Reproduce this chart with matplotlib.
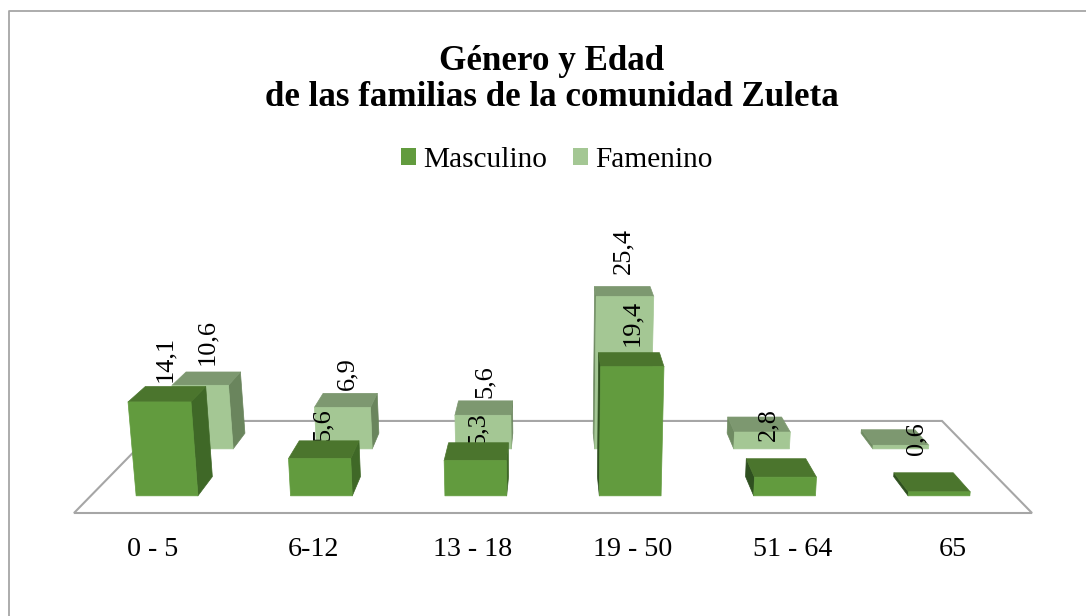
"""Género y Edad - 3D style clustered bars drawn with a small perspective helper."""

import matplotlib
matplotlib.use("Agg")
import matplotlib.pyplot as plt
from matplotlib.patches import Patch, Polygon

plt.rcParams["font.family"] = ["Liberation Serif", "DejaVu Serif"]

categories = ["0 - 5", "6-12", "13 - 18", "19 - 50", "51 - 64", "65"]
masculino = [14.1, 5.6, 5.3, 19.4, 2.8, 0.6]
femenino = [10.6, 6.9, 5.6, 25.4, 2.8, 0.6]
masc_labels = ["14,1", "5,6", "5,3", "19,4", None, None]
fem_labels = ["10,6", "6,9", "5,6", "25,4", "2,8", "0,6"]

# label nudges in pixels from the back centre of the bar top
masc_nudge = [(-10, -28), (-6, -16), (-1, -14), (3, -30), (0, 0), (0, 0)]
fem_nudge = [(-6, -30), (-3, -20), (-1, -19), (1, -35), (14, 7.5), (28, 9)]

# camera: depth vanishing point, floor front edge, px per unit
VP_X, VP_Y = 553, 23
FLOOR_FRONT_Y = 513
FLOOR_HALF = 479
DEPTH_K = 0.2313
STEP = 160
BAR_W = 64
HEIGHT_PX = 6.9
LEAN = 0.00138
BAR_DEPTH = 0.19
ROW_MASC = 0.157
ROW_FEM = 0.651

MASC = {"front": "#629B3E", "top": "#4B752D", "side": "#3F6827", "inner": "#2F5020"}
FEM = {"front": "#A4C794", "top": "#7D9870", "side": "#6A855D", "inner": "#6F8B62"}
GRID = "#A6A6A6"
LABEL_SIZE = 19


def project(x, h, d):
    """x in floor units from centre, h in data units, d in 0 (front) .. 1 (back)."""
    s = 1 / (1 + DEPTH_K * d)
    px = VP_X + x * s * (1 + h * LEAN)
    py = VP_Y + (FLOOR_FRONT_Y - VP_Y) * s - h * HEIGHT_PX * s
    return px, py


def draw_bar(ax, idx, value, row, colors, z):
    xc = STEP * (idx - (len(categories) - 1) / 2)
    x0, x1 = xc - BAR_W / 2, xc + BAR_W / 2
    d0, d1 = row, row + BAR_DEPTH
    edge = dict(linewidth=0.5, joinstyle="round", zorder=z)
    if x1 < 0:
        side = [project(x1, 0, d0), project(x1, value, d0), project(x1, value, d1), project(x1, 0, d1)]
        ax.add_patch(Polygon(side, facecolor=colors["side"], edgecolor=colors["side"], **edge))
    if x0 > 0:
        side = [project(x0, 0, d0), project(x0, value, d0), project(x0, value, d1), project(x0, 0, d1)]
        ax.add_patch(Polygon(side, facecolor=colors["inner"], edgecolor=colors["inner"], **edge))
    top = [project(x0, value, d0), project(x1, value, d0), project(x1, value, d1), project(x0, value, d1)]
    ax.add_patch(Polygon(top, facecolor=colors["top"], edgecolor=colors["top"], **edge))
    front = [project(x0, 0, d0), project(x1, 0, d0), project(x1, value, d0), project(x0, value, d0)]
    ax.add_patch(Polygon(front, facecolor=colors["front"], edgecolor=colors["front"], **edge))


def label_anchor(idx, value, row):
    xc = STEP * (idx - (len(categories) - 1) / 2)
    return project(xc, value, row + BAR_DEPTH)


fig = plt.figure(figsize=(10.86, 6.16), dpi=100)
ax = fig.add_axes([0, 0, 1, 1])
ax.set_xlim(0, 1086)
ax.set_ylim(616, 0)
ax.axis("off")

# chart frame, cut off by the image on the right and at the bottom
ax.plot([8.5, 8.5, 1086], [616, 10.5, 10.5], color="#A6A6A6", linewidth=1.3, zorder=0)

# floor
floor = [project(-FLOOR_HALF, 0, 0), project(FLOOR_HALF, 0, 0), project(FLOOR_HALF, 0, 1), project(-FLOOR_HALF, 0, 1)]
ax.add_patch(Polygon(floor, fill=False, edgecolor=GRID, linewidth=1.5, zorder=1))

for i, v in enumerate(femenino):
    draw_bar(ax, i, v, ROW_FEM, FEM, 2)

for i, (v, lab) in enumerate(zip(masculino, masc_labels)):
    if lab:
        px, py = label_anchor(i, v, ROW_MASC)
        ax.text(px + masc_nudge[i][0], py + masc_nudge[i][1], lab, rotation=90, fontsize=LABEL_SIZE,
                ha="center", va="center", color="black", zorder=3)

for i, v in enumerate(masculino):
    draw_bar(ax, i, v, ROW_MASC, MASC, 4)

for i, (v, lab) in enumerate(zip(femenino, fem_labels)):
    px, py = label_anchor(i, v, ROW_FEM)
    ax.text(px + fem_nudge[i][0], py + fem_nudge[i][1], lab, rotation=90, fontsize=LABEL_SIZE,
            ha="center", va="center", color="black", zorder=5)

# category labels under the front edge
for i, cat in enumerate(categories):
    px, py = project(STEP * (i - (len(categories) - 1) / 2), 0, 0)
    ax.text(px, 550, cat, fontsize=20.2, ha="center", va="center", color="black")

ax.text(552, 79.5, "Género y Edad\nde las familias de la comunidad Zuleta", fontsize=25.2, fontweight="bold",
        ha="center", va="center", linespacing=1.13, color="black")

handles = [Patch(facecolor=MASC["front"], label="Masculino"), Patch(facecolor=FEM["front"], label="Famenino")]
ax.legend(handles=handles, loc="center", bbox_to_anchor=(557, 160), bbox_transform=ax.transData,
          ncol=2, frameon=False, fontsize=21.2, handlelength=0.51, handleheight=0.51,
          handletextpad=0.24, columnspacing=0.88, borderpad=0)

fig.savefig("out.png", dpi=100)
plt.close(fig)
